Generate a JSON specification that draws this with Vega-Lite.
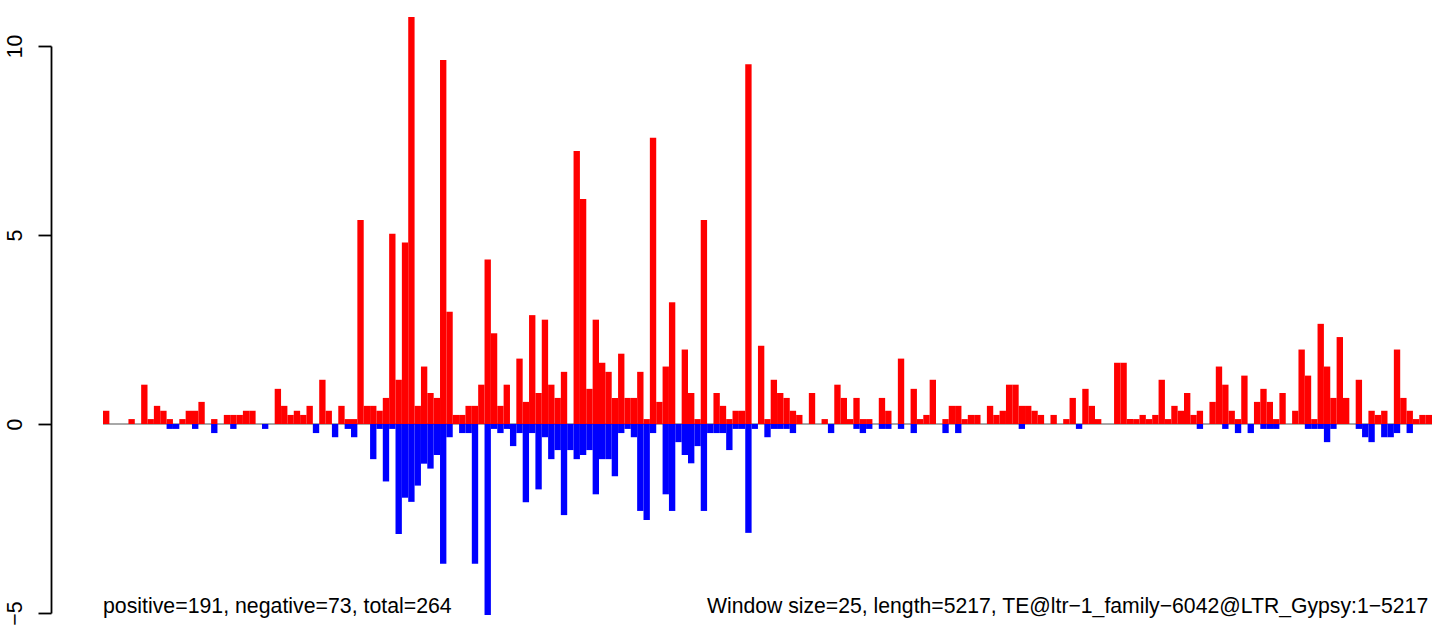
{
  "$schema": "https://vega.github.io/schema/vega-lite/v6.json",
  "width": 1329,
  "height": 567,
  "autosize": {"type": "none"},
  "padding": {"left": 103, "top": 46, "right": 1, "bottom": 13},
  "background": "white",
  "config": {"view": {"stroke": null}, "font": "Liberation Sans"},
  "datasets": {
    "bars": [
      {"i":0,"pos":0.35,"neg":0},{"i":1,"pos":0,"neg":0},{"i":2,"pos":0,"neg":0},{"i":3,"pos":0,"neg":0},
      {"i":4,"pos":0.13,"neg":0},{"i":5,"pos":0,"neg":0},{"i":6,"pos":1.04,"neg":0},{"i":7,"pos":0.13,"neg":0},
      {"i":8,"pos":0.48,"neg":0},{"i":9,"pos":0.35,"neg":0},{"i":10,"pos":0.13,"neg":-0.13},{"i":11,"pos":0,"neg":-0.13},
      {"i":12,"pos":0.13,"neg":0},{"i":13,"pos":0.35,"neg":0},{"i":14,"pos":0.35,"neg":-0.13},{"i":15,"pos":0.585,"neg":0},
      {"i":16,"pos":0,"neg":0},{"i":17,"pos":0.13,"neg":-0.24},{"i":18,"pos":0,"neg":0},{"i":19,"pos":0.24,"neg":0},
      {"i":20,"pos":0.24,"neg":-0.13},{"i":21,"pos":0.24,"neg":0},{"i":22,"pos":0.35,"neg":0},{"i":23,"pos":0.35,"neg":0},
      {"i":24,"pos":0,"neg":0},{"i":25,"pos":0,"neg":-0.13},{"i":26,"pos":0,"neg":0},{"i":27,"pos":0.93,"neg":0},
      {"i":28,"pos":0.48,"neg":0},{"i":29,"pos":0.24,"neg":0},{"i":30,"pos":0.35,"neg":0},{"i":31,"pos":0.24,"neg":0},
      {"i":32,"pos":0.48,"neg":0},{"i":33,"pos":0,"neg":-0.24},{"i":34,"pos":1.17,"neg":0},{"i":35,"pos":0.35,"neg":0},
      {"i":36,"pos":0,"neg":-0.35},{"i":37,"pos":0.48,"neg":0},{"i":38,"pos":0.13,"neg":-0.13},{"i":39,"pos":0.13,"neg":-0.35},
      {"i":40,"pos":5.40,"neg":0},{"i":41,"pos":0.48,"neg":0},{"i":42,"pos":0.48,"neg":-0.93},{"i":43,"pos":0.35,"neg":-0.13},
      {"i":44,"pos":0.69,"neg":-1.52},{"i":45,"pos":5.03,"neg":-0.13},{"i":46,"pos":1.17,"neg":-2.91},{"i":47,"pos":4.80,"neg":-1.95},
      {"i":48,"pos":10.77,"neg":-2.06},{"i":49,"pos":0.48,"neg":-1.63},{"i":50,"pos":1.52,"neg":-1.05},{"i":51,"pos":0.82,"neg":-1.18},
      {"i":52,"pos":0.69,"neg":-0.82},{"i":53,"pos":9.63,"neg":-3.70},{"i":54,"pos":2.97,"neg":-0.35},{"i":55,"pos":0.24,"neg":0},
      {"i":56,"pos":0.24,"neg":-0.24},{"i":57,"pos":0.48,"neg":-0.24},{"i":58,"pos":0.48,"neg":-3.70},{"i":59,"pos":1.04,"neg":0},
      {"i":60,"pos":4.35,"neg":-5.05},{"i":61,"pos":2.40,"neg":-0.13},{"i":62,"pos":0.48,"neg":-0.24},{"i":63,"pos":1.04,"neg":-0.13},
      {"i":64,"pos":0,"neg":-0.585},{"i":65,"pos":1.73,"neg":-0.24},{"i":66,"pos":0.585,"neg":-2.07},{"i":67,"pos":2.88,"neg":-0.24},
      {"i":68,"pos":0.82,"neg":-1.73},{"i":69,"pos":2.76,"neg":-0.35},{"i":70,"pos":1.04,"neg":-0.93},{"i":71,"pos":0.69,"neg":-0.69},
      {"i":72,"pos":1.38,"neg":-2.41},{"i":73,"pos":0,"neg":-0.69},{"i":74,"pos":7.22,"neg":-0.93},{"i":75,"pos":5.95,"neg":-0.82},
      {"i":76,"pos":0.93,"neg":-0.69},{"i":77,"pos":2.76,"neg":-1.86},{"i":78,"pos":1.62,"neg":-0.93},{"i":79,"pos":1.38,"neg":-0.93},
      {"i":80,"pos":0.69,"neg":-1.38},{"i":81,"pos":1.86,"neg":-0.24},{"i":82,"pos":0.69,"neg":-0.13},{"i":83,"pos":0.69,"neg":-0.35},
      {"i":84,"pos":1.38,"neg":-2.30},{"i":85,"pos":0.13,"neg":-2.54},{"i":86,"pos":7.57,"neg":-0.24},{"i":87,"pos":0.585,"neg":0},
      {"i":88,"pos":1.52,"neg":-1.86},{"i":89,"pos":3.22,"neg":-2.30},{"i":90,"pos":0,"neg":-0.48},{"i":91,"pos":1.97,"neg":-0.82},
      {"i":92,"pos":0.82,"neg":-1.04},{"i":93,"pos":0.13,"neg":-0.585},{"i":94,"pos":5.40,"neg":-2.30},{"i":95,"pos":0,"neg":-0.24},
      {"i":96,"pos":0.82,"neg":-0.24},{"i":97,"pos":0.48,"neg":-0.24},{"i":98,"pos":0.13,"neg":-0.69},{"i":99,"pos":0.35,"neg":-0.13},
      {"i":100,"pos":0.35,"neg":-0.13},{"i":101,"pos":9.52,"neg":-2.88},{"i":102,"pos":0,"neg":-0.13},{"i":103,"pos":2.07,"neg":0},
      {"i":104,"pos":0.13,"neg":-0.35},{"i":105,"pos":1.17,"neg":-0.13},{"i":106,"pos":0.82,"neg":-0.13},{"i":107,"pos":0.69,"neg":-0.13},
      {"i":108,"pos":0.35,"neg":-0.24},{"i":109,"pos":0.24,"neg":0},{"i":110,"pos":0,"neg":0},{"i":111,"pos":0.82,"neg":0},
      {"i":112,"pos":0,"neg":0},{"i":113,"pos":0.13,"neg":0},{"i":114,"pos":0,"neg":-0.24},{"i":115,"pos":1.04,"neg":0},
      {"i":116,"pos":0.69,"neg":0},{"i":117,"pos":0.13,"neg":0},{"i":118,"pos":0.69,"neg":-0.13},{"i":119,"pos":0.13,"neg":-0.24},
      {"i":120,"pos":0.13,"neg":-0.13},{"i":121,"pos":0,"neg":0},{"i":122,"pos":0.69,"neg":-0.13},{"i":123,"pos":0.35,"neg":-0.13},
      {"i":124,"pos":0,"neg":0},{"i":125,"pos":1.73,"neg":-0.13},{"i":126,"pos":0,"neg":0},{"i":127,"pos":0.93,"neg":-0.24},
      {"i":128,"pos":0.13,"neg":0},{"i":129,"pos":0.24,"neg":0},{"i":130,"pos":1.17,"neg":0},{"i":131,"pos":0,"neg":0},
      {"i":132,"pos":0.13,"neg":-0.24},{"i":133,"pos":0.48,"neg":0},{"i":134,"pos":0.48,"neg":-0.24},{"i":135,"pos":0.13,"neg":0},
      {"i":136,"pos":0.24,"neg":0},{"i":137,"pos":0.24,"neg":0},{"i":138,"pos":0,"neg":0},{"i":139,"pos":0.48,"neg":0},
      {"i":140,"pos":0.24,"neg":0},{"i":141,"pos":0.35,"neg":0},{"i":142,"pos":1.04,"neg":0},{"i":143,"pos":1.04,"neg":0},
      {"i":144,"pos":0.48,"neg":-0.13},{"i":145,"pos":0.48,"neg":0},{"i":146,"pos":0.35,"neg":0},{"i":147,"pos":0.24,"neg":0},
      {"i":148,"pos":0,"neg":0},{"i":149,"pos":0.24,"neg":0},{"i":150,"pos":0,"neg":0},{"i":151,"pos":0.13,"neg":0},
      {"i":152,"pos":0.69,"neg":0},{"i":153,"pos":0,"neg":-0.13},{"i":154,"pos":0.93,"neg":0},{"i":155,"pos":0.48,"neg":0},
      {"i":156,"pos":0.13,"neg":0},{"i":157,"pos":0,"neg":0},{"i":158,"pos":0,"neg":0},{"i":159,"pos":1.62,"neg":0},
      {"i":160,"pos":1.62,"neg":0},{"i":161,"pos":0.13,"neg":0},{"i":162,"pos":0.13,"neg":0},{"i":163,"pos":0.24,"neg":0},
      {"i":164,"pos":0.13,"neg":0},{"i":165,"pos":0.24,"neg":0},{"i":166,"pos":1.17,"neg":0},{"i":167,"pos":0.13,"neg":0},
      {"i":168,"pos":0.48,"neg":0},{"i":169,"pos":0.35,"neg":0},{"i":170,"pos":0.82,"neg":0},{"i":171,"pos":0.24,"neg":0},
      {"i":172,"pos":0.35,"neg":-0.13},{"i":173,"pos":0,"neg":0},{"i":174,"pos":0.585,"neg":0},{"i":175,"pos":1.52,"neg":0},
      {"i":176,"pos":1.04,"neg":-0.13},{"i":177,"pos":0.35,"neg":0},{"i":178,"pos":0.13,"neg":-0.24},{"i":179,"pos":1.28,"neg":0},
      {"i":180,"pos":0,"neg":-0.24},{"i":181,"pos":0.585,"neg":0},{"i":182,"pos":0.93,"neg":-0.13},{"i":183,"pos":0.585,"neg":-0.13},
      {"i":184,"pos":0.13,"neg":-0.13},{"i":185,"pos":0.82,"neg":0},{"i":186,"pos":0,"neg":0},{"i":187,"pos":0.35,"neg":0},
      {"i":188,"pos":1.97,"neg":0},{"i":189,"pos":1.28,"neg":-0.13},{"i":190,"pos":0.13,"neg":-0.13},{"i":191,"pos":2.65,"neg":-0.13},
      {"i":192,"pos":1.52,"neg":-0.48},{"i":193,"pos":0.69,"neg":-0.13},{"i":194,"pos":2.30,"neg":0},{"i":195,"pos":0.69,"neg":0},
      {"i":196,"pos":0,"neg":0},{"i":197,"pos":1.17,"neg":-0.13},{"i":198,"pos":0,"neg":-0.35},{"i":199,"pos":0.35,"neg":-0.48},
      {"i":200,"pos":0.24,"neg":0},{"i":201,"pos":0.35,"neg":-0.35},{"i":202,"pos":0,"neg":-0.35},{"i":203,"pos":1.97,"neg":-0.24},
      {"i":204,"pos":0.69,"neg":0},{"i":205,"pos":0.35,"neg":-0.24},{"i":206,"pos":0.13,"neg":0},{"i":207,"pos":0.24,"neg":0},
      {"i":208,"pos":0.24,"neg":0}
    ]
  },
  "layer": [
    {
      "data": {"values": [{"ref": 0}]},
      "mark": {"type": "rule", "color": "#A8A8A8", "strokeWidth": 1.8},
      "encoding": {"y": {"datum": 0, "type": "quantitative"}}
    },
    {
      "data": {"name": "bars"},
      "mark": {"type": "bar", "color": "#FF0000"},
      "encoding": {
        "x": {"field": "i", "type": "ordinal", "scale": {"paddingInner": 0, "paddingOuter": 0}, "axis": null},
        "y": {
          "field": "pos", "type": "quantitative",
          "scale": {"domain": [-5, 10], "nice": false},
          "axis": {
            "title": null, "values": [-5, 0, 5, 10], "offset": 52, "grid": false,
            "domain": true, "domainColor": "black", "domainWidth": 1.8,
            "ticks": true, "tickColor": "black", "tickWidth": 1.8, "tickSize": 13,
            "labelAngle": -90, "labelAlign": "center", "labelBaseline": "alphabetic",
            "labelPadding": 17, "labelFont": "Liberation Sans", "labelFontSize": 21.3,
            "labelColor": "black", "labelFlush": false, "labelOverlap": false
          }
        },
        "y2": {"datum": 0}
      }
    },
    {
      "data": {"name": "bars"},
      "mark": {"type": "bar", "color": "#0000FF"},
      "encoding": {
        "x": {"field": "i", "type": "ordinal", "axis": null},
        "y": {"field": "neg", "type": "quantitative", "axis": {"title": null}},
        "y2": {"datum": 0}
      }
    },
    {
      "data": {"values": [{"label": "positive=191, negative=73, total=264"}]},
      "mark": {"type": "text", "align": "left", "baseline": "alphabetic", "font": "Liberation Sans", "fontSize": 21.3, "color": "black"},
      "encoding": {
        "x": {"datum": 0, "type": "ordinal", "bandPosition": 0, "axis": null},
        "y": {"datum": -5, "type": "quantitative"},
        "text": {"field": "label"}
      }
    },
    {
      "data": {"values": [{"label": "Window size=25, length=5217, TE@ltr−1_family−6042@LTR_Gypsy:1−5217"}]},
      "mark": {"type": "text", "align": "right", "baseline": "alphabetic", "font": "Liberation Sans", "fontSize": 21.2, "color": "black"},
      "encoding": {
        "x": {"datum": 208, "type": "ordinal", "bandPosition": 0.4, "axis": null},
        "y": {"datum": -5, "type": "quantitative"},
        "text": {"field": "label"}
      }
    }
  ]
}
